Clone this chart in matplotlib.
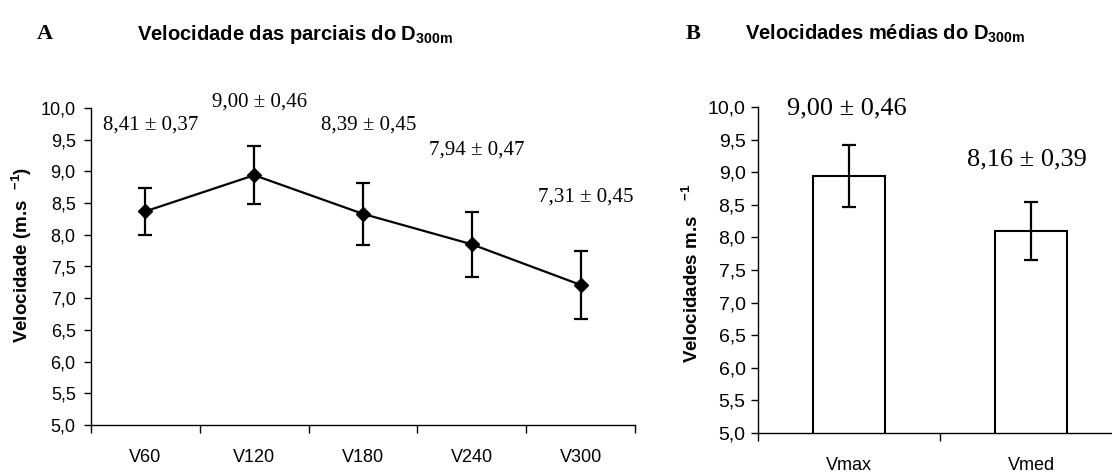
import matplotlib
matplotlib.use("Agg")
import matplotlib.pyplot as plt
from matplotlib import font_manager as fm

# ---------------- data ----------------
partial_labels = ["V60", "V120", "V180", "V240", "V300"]
partial_means = [8.37, 8.94, 8.33, 7.85, 7.21]
partial_errs = [0.37, 0.46, 0.49, 0.51, 0.54]
partial_texts = ["8,41 ± 0,37", "9,00 ± 0,46", "8,39 ± 0,45", "7,94 ± 0,47", "7,31 ± 0,45"]

mean_labels = ["Vmax", "Vmed"]
mean_values = [8.94, 8.10]
mean_errs = [0.47, 0.44]
mean_texts = ["9,00 ± 0,46", "8,16 ± 0,39"]

yticks = [5.0, 5.5, 6.0, 6.5, 7.0, 7.5, 8.0, 8.5, 9.0, 9.5, 10.0]
ytick_labels = [f"{v:.1f}".replace(".", ",") for v in yticks]

# ---------------- layout ----------------
partial_text_y = [9.73, 10.10, 9.73, 9.34, 8.60]
mean_text_pos = [(-0.01, 9.98), (0.98, 9.20)]

W, H = 1112, 473
fig = plt.figure(figsize=(W / 100, H / 100), dpi=100)

names = {f.name for f in fm.fontManager.ttflist}
narrow = "Liberation Sans Narrow" in names
title_family = "Liberation Sans Narrow" if narrow else "Liberation Sans"
title_size = 17 if narrow else 14.5
lab_size = 15 if narrow else 13.5

plt.rcParams["mathtext.fontset"] = "custom"
plt.rcParams["mathtext.rm"] = title_family
plt.rcParams["mathtext.bf"] = title_family + ":bold"
plt.rcParams["font.family"] = ["Liberation Sans", "DejaVu Sans"]


def px_axes(x0, x1, ytop, ybot):
    return fig.add_axes([x0 / W, 1 - ybot / H, (x1 - x0) / W, (ybot - ytop) / H])


def style(ax, n, tick_fs, ypad):
    for s in ["top", "right"]:
        ax.spines[s].set_visible(False)
    for s in ["left", "bottom"]:
        ax.spines[s].set_linewidth(1.0)
        ax.spines[s].set_color("black")
    ax.set_ylim(5.0, 10.0)
    ax.set_yticks(yticks)
    ax.set_yticklabels(ytick_labels, fontsize=tick_fs)
    ax.tick_params(axis="y", direction="out", length=5, width=1, pad=ypad)
    ax.set_xlim(-0.5, n - 0.5)
    ax.set_xticks(range(n))
    ax.set_xticks([i + 0.5 for i in range(-1, n)], minor=True)
    ax.tick_params(axis="x", which="major", length=0, pad=17)
    ax.tick_params(axis="x", which="minor", direction="out", length=6, width=1)


# ---------------- panel A ----------------
axA = px_axes(91, 635, 108, 425)
style(axA, len(partial_labels), 13, 6)
xs = list(range(len(partial_labels)))
axA.errorbar(xs, partial_means, yerr=partial_errs, color="black", lw=1.6,
             elinewidth=1.6, capsize=5, capthick=1.6, marker="D", markersize=7,
             markerfacecolor="black", markeredgecolor="black", clip_on=False)
axA.set_xticklabels(partial_labels, fontsize=13)
for i, (t, ty) in enumerate(zip(partial_texts, partial_text_y)):
    axA.text(i + 0.05, ty, t, ha="center", va="center", fontsize=15,
             family="Liberation Serif", clip_on=False)

# ---------------- panel B ----------------
axB = px_axes(758, 1122, 107, 433)
style(axB, len(mean_labels), 14, 4)
xb = list(range(len(mean_labels)))
axB.bar(xb, mean_values, width=0.40, bottom=0, color="white", edgecolor="black",
        linewidth=1.5, zorder=2)
axB.errorbar(xb, mean_values, yerr=mean_errs, fmt="none", ecolor="black",
             elinewidth=1.6, capsize=5, capthick=1.6, zorder=3)
axB.set_xticklabels(mean_labels, fontsize=13)
for t, (tx, ty) in zip(mean_texts, mean_text_pos):
    axB.text(tx, ty, t, ha="center", va="center", fontsize=19,
             family="Liberation Serif", clip_on=False)

# ---------------- titles and axis labels ----------------
fig.text(37 / W, 1 - 34 / H, "A", fontsize=16, fontweight="bold",
         family="Liberation Serif", va="center", ha="left")
fig.text(137 / W, 1 - 34 / H, r"Velocidade das parciais do D$_{\mathbf{300m}}$",
         fontsize=title_size, fontweight="bold", family=title_family,
         va="center", ha="left")
fig.text(686 / W, 1 - 34 / H, "B", fontsize=16, fontweight="bold",
         family="Liberation Serif", va="center", ha="left")
fig.text(745 / W, 1 - 34 / H, r"Velocidades médias do D$_{\mathbf{300m}}$",
         fontsize=title_size, fontweight="bold", family=title_family,
         va="center", ha="left")

fig.text(22 / W, 1 - 255 / H, r"Velocidade (m.s  $^{\mathbf{-1}}$)",
         rotation=90, fontsize=lab_size, fontweight="bold", family=title_family,
         va="center", ha="center")
fig.text(692 / W, 1 - 273 / H, r"Velocidades m.s   $^{\mathbf{-1}}$",
         rotation=90, fontsize=lab_size, fontweight="bold", family=title_family,
         va="center", ha="center")

fig.savefig("out.png", dpi=100, facecolor="white")
